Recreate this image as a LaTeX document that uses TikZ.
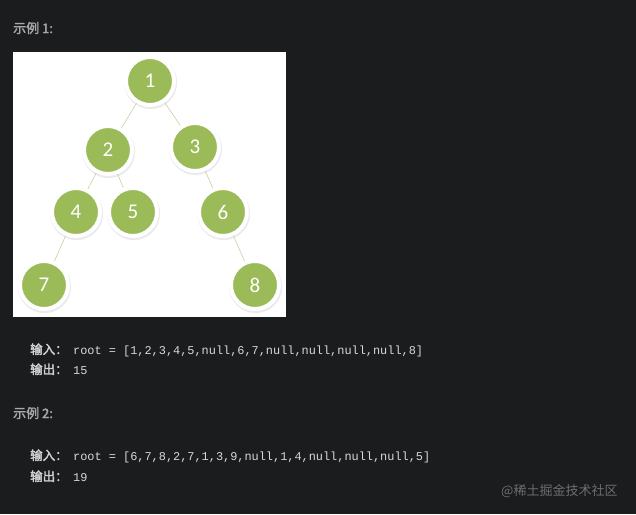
\documentclass[tikz,border=0pt]{standalone}
\usepackage{fontspec}
\setmainfont{Carlito}
\setmonofont{Liberation Mono}
\newfontfamily\cjk{Noto Sans CJK SC}[AutoFakeBold=2.5]
\usetikzlibrary{positioning}
\definecolor{pagebg}{HTML}{1B1C1E}
\definecolor{nodegreen}{HTML}{9BBB59}
\definecolor{edgegreen}{HTML}{C2C898}
\definecolor{headgray}{HTML}{A9A9A9}
\definecolor{labelgray}{HTML}{D2D2D2}
\definecolor{codegray}{HTML}{D8D8D8}
\definecolor{markgray}{HTML}{6E6E6E}
\tikzset{
    heading/.style = {anchor=base west, inner sep=0pt, text=headgray, font=\cjk\bfseries\fontsize{13}{15}\selectfont},
    label/.style = {anchor=base west, inner sep=0pt, text=labelgray, font=\cjk\bfseries\fontsize{12.5}{15}\selectfont},
    code/.style = {anchor=base west, inner sep=0pt, text=codegray, font=\ttfamily\fontsize{11.9}{15}\selectfont}
}

\begin{document}
\begin{tikzpicture}[x=1pt, y=-1pt,
    main/.style = {draw=white, circle, line width=4pt, fill=nodegreen, minimum size=48pt, inner sep=0pt, text=white,
        font=\fontsize{21}{21}\selectfont,
        preaction={fill=black!22, draw=black!8, line width=5pt, transform canvas={shift={(0.6pt,-1.6pt)}}}},
    edge/.style = {draw=edgegreen, line width=0.5pt}]
% page and picture panel
\fill[pagebg] (0,0) rectangle (636,514);
\fill[white] (13,52) rectangle (286,317);

\node[heading] (h1) at (13,33) {示例 1:};

% tree
\node[main] (1) at (150,81) {1};
\node[main] (2) at (108,150) {2};
\node[main] (3) at (195,147) {3};
\node[main] (4) at (76,212) {4};
\node[main] (5) at (133,212) {5};
\node[main] (6) at (223,212) {6};
\node[main] (7) at (44,285) {7};
\node[main] (8) at (255,285) {8};

\draw[edge] (1) -- (2);
\draw[edge] (1) -- (3);
\draw[edge] (2) -- (4);
\draw[edge] (2) -- (5);
\draw[edge] (3) -- (6);
\draw[edge] (4) -- (7);
\draw[edge] (6) -- (8);

% example 1 text
\node[label] (in1) at (30,354) {输入：};
\node[code] (root1) at (73,354) {root = [1,2,3,4,5,null,6,7,null,null,null,null,8]};
\node[label] (out1) at (30,374) {输出：};
\node[code] (res1) at (73,374) {15};

% example 2 text
\node[heading] (h2) at (13,418) {示例 2:};
\node[label] (in2) at (30,460) {输入：};
\node[code] (root2) at (73,460) {root = [6,7,8,2,7,1,3,9,null,1,4,null,null,null,5]};
\node[label] (out2) at (30,481) {输出：};
\node[code] (res2) at (73,481) {19};

\node[anchor=base west, inner sep=0pt, text=markgray, font=\cjk\fontsize{13}{15}\selectfont] (mark) at (501,495) {@稀土掘金技术社区};
\end{tikzpicture}
\end{document}
